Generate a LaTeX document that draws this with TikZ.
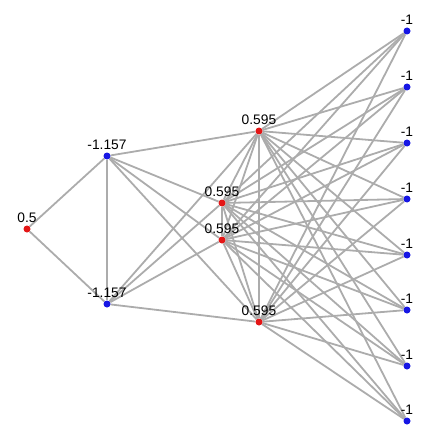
\documentclass[tikz,border=0pt]{standalone}
\usepackage{fontspec}
\setmainfont{Liberation Sans}
\usetikzlibrary{backgrounds}
\definecolor{vred}{RGB}{228,22,22}
\definecolor{vblue}{RGB}{22,22,228}
\definecolor{lgrey}{RGB}{172,172,172}
\tikzset{
  vtx/.style={circle, inner sep=0pt, minimum size=7pt},
  posvtx/.style={vtx, fill=vred},
  negvtx/.style={vtx, fill=vblue},
  lnk/.style={draw=lgrey, line width=1.8pt},
  every label/.style={inner sep=1pt, label distance=1.2pt, font=\fontsize{13.8}{16}\selectfont},
}
\begin{document}
\begin{tikzpicture}[x=1pt, y=-1pt]
\useasboundingbox (0,0) rectangle (430,441);
% source and the two blue hubs
\node[posvtx, label=above:0.5] (s) at (27,229) {};
\node[negvtx, label=above:-1.157] (b1) at (107,156) {};
\node[negvtx, label=above:-1.157] (b2) at (107,304) {};
% red layer
\node[posvtx, label=above:0.595] (r1) at (259,131) {};
\node[posvtx, label=above:0.595] (r2) at (222,203) {};
\node[posvtx, label=above:0.595] (r3) at (222,240) {};
\node[posvtx, label=above:0.595] (r4) at (259,322) {};
% right column
\foreach \i/\y in {1/31, 2/87, 3/143, 4/199, 5/255, 6/310, 7/366, 8/421}
  \node[negvtx, label=above:-1] (t\i) at (407,\y) {};
\begin{scope}[on background layer]
\draw[lnk] (s) -- (b1);
\draw[lnk] (s) -- (b2);
\draw[lnk] (b1) -- (b2);
\foreach \r in {r1,r2,r3,r4} {
  \draw[lnk] (b1) -- (\r);
  \draw[lnk] (b2) -- (\r);
}
\draw[lnk] (r1) -- (r2);
\draw[lnk] (r1) -- (r3);
\draw[lnk] (r1) -- (r4);
\draw[lnk] (r2) -- (r3);
\draw[lnk] (r2) -- (r4);
\draw[lnk] (r3) -- (r4);
\foreach \r in {r1,r2,r3,r4}
  \foreach \i in {1,...,8}
    \draw[lnk] (\r) -- (t\i);
\end{scope}
\end{tikzpicture}
\end{document}
